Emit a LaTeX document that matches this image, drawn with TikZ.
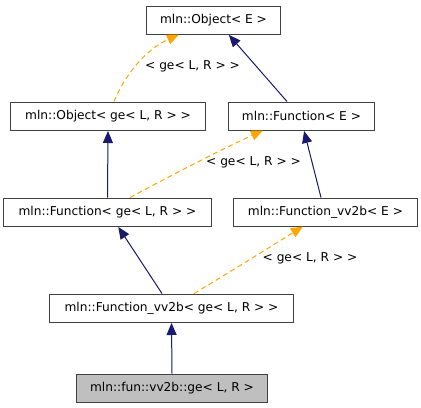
\documentclass[tikz,border=0pt]{standalone}
\usepackage{fontspec}
\setmainfont{DejaVu Sans}
\usetikzlibrary{arrows.meta}
\definecolor{navy}{HTML}{191970}
\definecolor{dorange}{HTML}{FFA500}
\definecolor{boxline}{HTML}{404040}
\definecolor{boxgray}{HTML}{BFBFBF}
\begin{document}
\begin{tikzpicture}[x=1bp,y=-1bp,
  cls/.style={draw=boxline,line width=1bp,fill=white,minimum height=28bp,inner sep=0pt,
    font=\fontsize{12.2bp}{14bp}\selectfont,text=black},
  inh/.style={draw=navy,line width=1bp,-{Triangle[length=12bp,width=10bp]},shorten >=0.5bp,fill=none},
  tmpl/.style={draw=dorange,line width=1bp,dash pattern=on 5bp off 3.5bp,
    -{Triangle[length=12bp,width=10bp,fill=dorange]},fill=none},
  lbl/.style={font=\fontsize{12.2bp}{14bp}\selectfont,text=black,inner sep=0pt}]
\useasboundingbox (0,0) rectangle (421,408);
\fill[white] (0,0) rectangle (421,408);
\node[cls,minimum width=133bp] (objE) at (213.5,20) {mln::Object< E >};
\node[cls,minimum width=194bp] (objge) at (108,116) {mln::Object< ge< L, R > >};
\node[cls,minimum width=145bp] (funE) at (301.5,116) {mln::Function< E >};
\node[cls,minimum width=207bp] (funge) at (107.5,212) {mln::Function< ge< L, R > >};
\node[cls,minimum width=183bp] (vvE) at (325.5,212) {mln::Function\_vv2b< E >};
\node[cls,minimum width=243bp] (vvge) at (171.5,308) {mln::Function\_vv2b< ge< L, R > >};
\node[cls,minimum width=190bp,fill=boxgray] (ge) at (172,388) {mln::fun::vv2b::ge< L, R >};
% edges
\draw[tmpl] ([xshift=6bp]objge.north) .. controls (125,75) and (145,50) .. ([xshift=-34.5bp]objE.south);
\draw[inh] ([xshift=-14.5bp]funE.north) -- ([xshift=15bp]objE.south);
\draw[inh] (funge.north) -- (objge.south);
\draw[tmpl] ([xshift=22.5bp]funge.north) .. controls (170,176) and (220,150) .. ([xshift=-38.5bp]funE.south);
\draw[inh] ([xshift=-4.5bp]vvE.north) -- ([xshift=2.5bp]funE.south);
\draw[inh] ([xshift=-9.5bp]vvge.north) -- ([xshift=10.5bp]funge.south);
\draw[tmpl] ([xshift=22.5bp]vvge.north) .. controls (230,272) and (265,250) .. ([xshift=-22.5bp]vvE.south);
\draw[inh] (ge.north) -- (vvge.south);
% labels
\node[lbl] (l1) at (192.5,66) {< ge< L, R > >};
\node[lbl] (l2) at (253.5,162) {< ge< L, R > >};
\node[lbl] (l3) at (310,258.5) {< ge< L, R > >};
\end{tikzpicture}
\end{document}
